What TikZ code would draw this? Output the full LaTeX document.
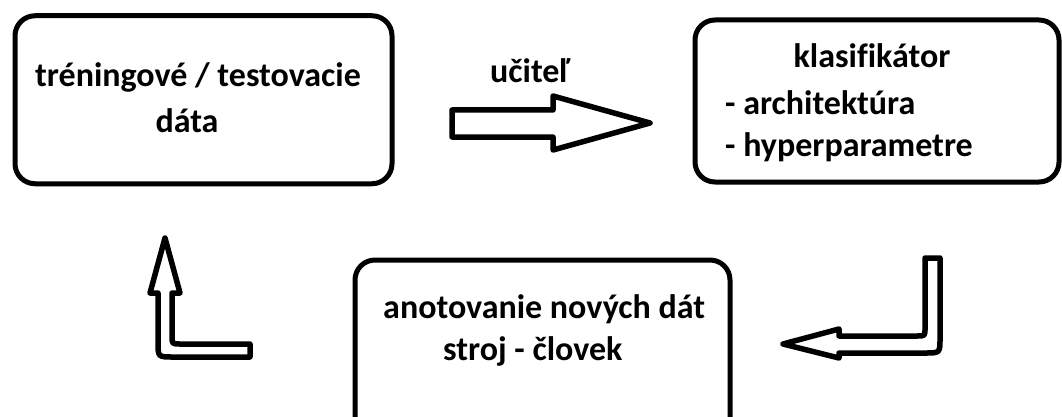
\documentclass[tikz,border=0pt]{standalone}
\usepackage{fontspec}
\setmainfont{Carlito}[Ligatures=NoCommon]
\begin{document}
\begin{tikzpicture}[x=1pt,y=-1pt,
  box/.style={draw=black, line width=5pt, rounded corners=20pt, inner sep=0pt},
  lbl/.style={inner sep=0pt, font=\fontsize{34}{40}\selectfont\bfseries},
  blockarrow/.style={draw=black, line width=5.5pt, line join=round, fill=white}]
\clip (0,0) rectangle (1062,417);
\fill[white] (0,0) rectangle (1062,417);
% boxes
\node[box, minimum width=377pt, minimum height=168pt] (train) at (203.5,99.75) {};
\node[box, minimum width=364pt, minimum height=162pt] (clf) at (877,101) {};
\node[box, minimum width=375pt, minimum height=180pt] (annot) at (542.5,350) {};
% texts
\node[lbl, anchor=base west] (t1) at (35,87) {tréningové / testovacie};
\node[lbl, anchor=base] (t2) at (187,132) {dáta};
\node[lbl, anchor=base] (c1) at (872,68) {klasifikátor};
\node[lbl, anchor=base west] (c2) at (725,115) {- architektúra};
\node[lbl, anchor=base west] (c3) at (725,157) {- hyperparametre};
\node[lbl, anchor=base west] (a1) at (383,318) {anotovanie nových dát};
\node[lbl, anchor=base west] (a2) at (443,360) {stroj - človek};
\node[lbl, anchor=base west] (teacher) at (490,83) {učiteľ};
% block arrows
\draw[blockarrow] (452,110) -- (553,110) -- (553,96) -- (650,123) -- (553,150) -- (553,137) -- (452,137) -- cycle;
\draw[blockarrow] (925,258) -- (940,258) -- (940,338) .. controls (940,353) .. (925,353) -- (839,353) -- (839,358) -- (783,344) -- (839,329) -- (839,336) -- (917,336) .. controls (925,336) .. (925,328) -- cycle;
\draw[blockarrow] (172,293) -- (180,293) -- (165,238) -- (150,293) -- (158,293) -- (158,342) .. controls (158,357) .. (173,357) -- (250,357) -- (250,344) -- (180,344) .. controls (172,344) .. (172,336) -- cycle;
\end{tikzpicture}
\end{document}
